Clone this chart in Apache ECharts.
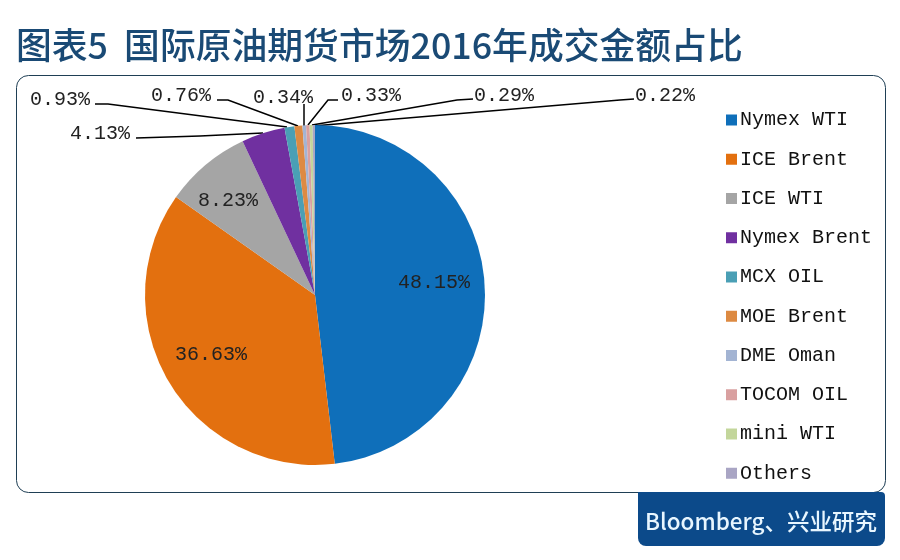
<!DOCTYPE html>
<html>
<head>
<meta charset="utf-8">
<style>html,body{margin:0;padding:0;background:#fff}#view{width:900px;height:560px}</style>
<script src="https://cdn.jsdelivr.net/npm/echarts@6/dist/echarts.min.js"></script>
</head>
<body>
<div id="view"></div>
<script>
var names = ['Nymex WTI', 'ICE Brent', 'ICE WTI', 'Nymex Brent', 'MCX OIL', 'MOE Brent', 'DME Oman', 'TOCOM OIL', 'mini WTI', 'Others'];
var shares = [48.15, 36.63, 8.23, 4.13, 0.93, 0.76, 0.34, 0.33, 0.29, 0.22];
var colors = ['#0f6fba', '#e3700f', '#a5a5a5', '#7030a0', '#4a9fb5', '#dd8a42', '#a3b4d3', '#d9a0a0', '#c3d69b', '#a9a5c4'];

// label centres, same order as names
var labelPos = [[434, 283], [211, 355], [228, 201], [100, 134], [60, 100], [181, 96], [283, 98], [371, 96], [504, 96], [665, 96]];
// leader lines, label side first
var leaders = [
    null, null, null,
    [[136, 138], [200, 136], [263, 133]],
    [[95, 104], [108, 104], [287, 127]],
    [[217, 100], [228, 100], [298, 126]],
    [[304, 104], [304, 115], [304, 126]],
    [[338, 100], [328, 100], [308, 125]],
    [[473, 99], [457, 100], [312, 125]],
    [[634, 99], [620, 100], [313, 126]]
];

var monoFont = '"Liberation Mono", monospace';
var cjkFont = '"Noto Sans CJK SC", sans-serif';

var myChart = echarts.init(document.getElementById('view'));

option = {
    backgroundColor: '#fff',
    animation: false,
    color: colors,
    title: {
        text: '图表5  国际原油期货市场2016年成交金额占比',
        left: 11,
        top: 22,
        textStyle: {
            color: '#1a4a75',
            fontFamily: cjkFont,
            fontSize: 35.8,
            fontWeight: 500
        }
    },
    legend: {
        orient: 'vertical',
        left: 726,
        top: 110,
        padding: 0,
        itemWidth: 11,
        itemHeight: 11,
        itemGap: 19.25,
        icon: 'rect',
        data: names,
        textStyle: {
            color: '#111',
            fontFamily: monoFont,
            fontSize: 20,
            padding: [0, 0, 0, -2]
        }
    },
    graphic: [{
        type: 'rect',
        z: -1,
        shape: {x: 16.5, y: 75.5, width: 869, height: 417, r: 12},
        style: {fill: '#fff', stroke: '#1f3f55', lineWidth: 1}
    }, {
        type: 'rect',
        shape: {x: 638, y: 492, width: 247, height: 54, r: [0, 4, 8, 8]},
        style: {fill: '#0c4a8a'}
    }, {
        type: 'text',
        x: 761,
        y: 521,
        style: {
            text: 'Bloomberg、兴业研究',
            fill: '#e8f6ff',
            font: '500 22.5px ' + cjkFont,
            align: 'center',
            verticalAlign: 'middle'
        }
    }],
    series: {
        type: 'pie',
        center: [315, 295],
        radius: [0, 170],
        startAngle: 90,
        clockwise: true,
        avoidLabelOverlap: false,
        data: names.map(function (name, i) {
            return {
                name: name,
                value: shares[i],
                labelLine: {show: leaders[i] !== null}
            };
        }),
        label: {
            show: true,
            position: 'outer',
            formatter: function (p) {
                return shares[p.dataIndex].toFixed(2) + '%';
            },
            color: '#222',
            fontFamily: monoFont,
            fontSize: 20
        },
        labelLine: {
            show: true,
            lineStyle: {color: '#000', width: 1.5}
        },
        labelLayout: function (p) {
            var i = p.dataIndex;
            var out = {x: labelPos[i][0], y: labelPos[i][1], align: 'center', verticalAlign: 'middle'};
            if (leaders[i]) {
                out.labelLinePoints = leaders[i];
            }
            return out;
        }
    }
};

myChart.setOption(option);
</script>
</body>
</html>
